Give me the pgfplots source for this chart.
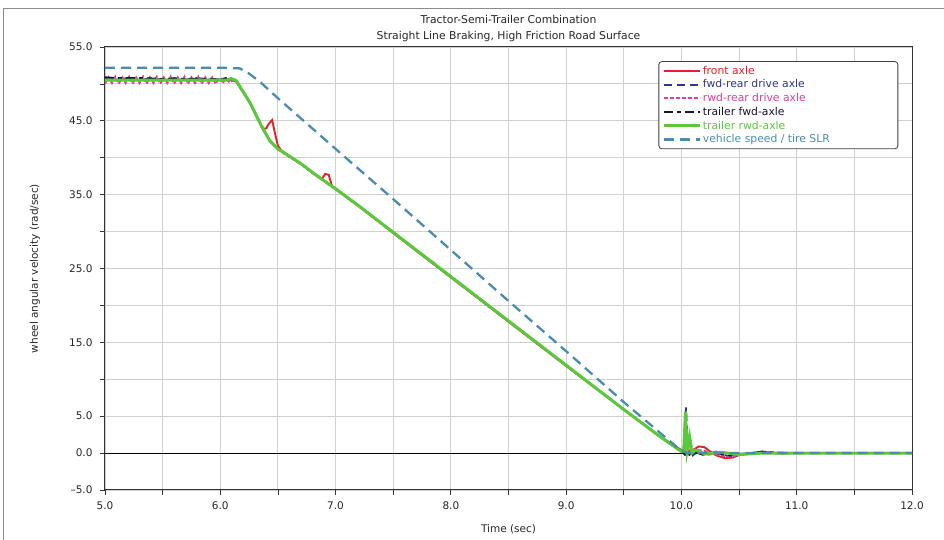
\documentclass[border=0pt]{standalone}
\usepackage{fontspec}
\setmainfont{DejaVu Sans}
\usepackage{pgfplots}
\pgfplotsset{compat=1.18}
\definecolor{cRed}{RGB}{228,32,36}
\definecolor{cNavy}{RGB}{45,55,140}
\definecolor{cPink}{RGB}{230,60,150}
\definecolor{cBlack}{RGB}{20,20,50}
\definecolor{cGreen}{RGB}{90,200,60}
\definecolor{cSteel}{RGB}{75,140,172}
\definecolor{cGrid}{RGB}{208,208,208}
\newcommand{\lt}[2]{\makebox[190pt][l]{\textcolor{#1}{#2}}}
\begin{document}
\begin{tikzpicture}
\useasboundingbox (-105pt,-50pt) rectangle (839pt,490pt);
\begin{axis}[
  at={(0,0)}, anchor=south west,
  scale only axis, width=807pt, height=443pt,
  xmin=5, xmax=12, ymin=-5, ymax=55,
  xtick={5,5.5,...,12},
  xticklabels={5.0,,6.0,,7.0,,8.0,,9.0,,10.0,,11.0,,12.0},
  ytick={-5,0,5,10,15,20,25,30,35,40,45,50,55},
  yticklabels={–5.0,0.0,5.0,,15.0,,25.0,,35.0,,45.0,,55.0},
  xtick pos=bottom, ytick pos=left,
  tick align=outside, major tick length=5pt,
  tick style={black!80, line width=0.8pt},
  grid=major,
  major grid style={draw=cGrid, line width=0.9pt},
  axis line style={draw=black!80, line width=1pt},
  ticklabel style={font=\fontsize{10.5}{12}\selectfont, text=black!85},
  xticklabel style={yshift=-3pt},
  yticklabel style={xshift=-4pt},
  xlabel={Time (sec)},
  ylabel={wheel angular velocity (rad/sec)},
  label style={font=\fontsize{10.5}{12}\selectfont, text=black!85},
  xlabel style={at={(axis description cs:0.5,0)}, anchor=center, yshift=-39pt},
  ylabel style={at={([xshift=-70pt]axis description cs:0,0.5)}, anchor=center},
  title={Tractor-Semi-Trailer Combination\\Straight Line Braking, High Friction Road Surface},
  title style={at={(axis description cs:0.5,1)}, anchor=south, align=center, inner sep=0pt, yshift=-1pt,
    font=\fontsize{10.8}{16}\selectfont, text=black!85},
  legend style={at={(axis description cs:0.983,0.968)}, anchor=north east,
    draw=black!75, rounded corners=3pt, fill=white, line width=0.8pt,
    font=\fontsize{10.8}{12}\selectfont, row sep=0pt, inner xsep=4pt, inner ysep=2.5pt,
    nodes={inner xsep=1pt}},
  legend cell align=left,
  legend image code/.code={\draw[#1] (0pt,0pt) -- (36pt,0pt);},
]
\addplot[black, line width=1pt, forget plot] coordinates {(5,0) (12,0)};

% front axle
\addplot[cRed, line width=1.9pt] coordinates {
(5.00,50.6)(5.10,50.5)(5.20,50.6)(5.30,50.5)(5.40,50.6)(5.50,50.5)(5.60,50.6)(5.70,50.5)(5.80,50.6)(5.90,50.5)(6.00,50.5)(6.10,50.5)
(6.14,50.3)(6.20,48.9)(6.26,47.4)(6.31,45.8)(6.36,44.3)(6.38,43.9)(6.40,44.0)(6.42,44.6)(6.45,45.1)(6.47,43.6)(6.50,41.6)(6.53,41.0)
(6.60,40.2)(6.70,39.2)(6.80,38.0)(6.88,37.1)(6.91,37.8)(6.94,37.7)(6.97,36.1)(7.00,35.8)(7.20,33.5)(7.50,29.8)(8.00,23.8)(8.50,17.8)
(9.00,11.8)(9.50,5.9)(9.80,2.4)(10.00,0.4)(10.05,0.1)(10.10,0.4)(10.15,0.9)(10.20,0.8)(10.25,0.2)(10.30,-0.3)(10.38,-0.7)(10.45,-0.6)
(10.50,-0.2)(10.60,0.0)(10.70,0.2)(10.80,0.0)(11.00,0.0)(12.00,0.0)};
\addlegendentry{\lt{cRed}{front axle}}

% fwd-rear drive axle
\addplot[cNavy, line width=1.8pt, dash pattern=on 8pt off 5pt] coordinates {
(5.00,50.8)(5.10,50.6)(5.20,50.8)(5.30,50.5)(5.40,50.8)(5.50,50.6)(5.60,50.8)(5.70,50.6)(5.80,50.8)(5.90,50.6)(6.00,50.7)(6.10,50.5)
(6.14,50.4)(6.20,48.9)(6.26,47.4)(6.31,45.8)(6.36,44.2)(6.43,42.3)(6.50,41.2)(6.60,40.2)(6.70,39.2)(6.80,38.0)(6.90,36.9)(7.00,35.8)
(7.20,33.5)(7.50,29.9)(8.00,23.9)(8.50,17.9)(9.00,11.9)(9.50,5.9)(9.80,2.4)(10.00,0.3)(10.02,0.5)(10.04,6.2)(10.055,0.8)(10.08,1.6)
(10.10,-0.3)(10.15,0.3)(10.20,-0.2)(10.30,0.2)(10.40,-0.4)(10.50,-0.1)(10.70,0.1)(11.00,0.0)(12.00,0.0)};
\addlegendentry{\lt{cNavy}{fwd-rear drive axle}}

% rwd-rear drive axle
\addplot[cPink, line width=1.8pt, dash pattern=on 4pt off 2pt] coordinates {
(5.00,50.0)(5.03,50.9)(5.06,50.1)(5.09,51.0)(5.12,50.0)(5.15,50.9)(5.18,50.1)(5.21,51.0)(5.24,50.0)(5.27,50.9)(5.30,50.1)(5.33,51.0)
(5.36,50.0)(5.39,50.9)(5.42,50.1)(5.45,51.0)(5.48,50.0)(5.51,50.9)(5.54,50.1)(5.57,51.0)(5.60,50.0)(5.63,50.9)(5.66,50.1)(5.69,51.0)
(5.72,50.0)(5.75,50.9)(5.78,50.1)(5.81,51.0)(5.84,50.0)(5.87,50.9)(5.90,50.1)(5.93,50.9)(5.96,50.0)(5.99,50.8)(6.02,50.1)(6.05,50.7)(6.08,50.2)(6.11,50.5)
(6.14,50.2)(6.20,48.8)(6.26,47.3)(6.31,45.7)(6.36,44.1)(6.43,42.2)(6.50,41.1)(6.60,40.1)(6.70,39.1)(6.80,37.9)(6.90,36.8)(7.00,35.7)
(7.20,33.4)(7.50,29.8)(8.00,23.8)(8.50,17.8)(9.00,11.8)(9.50,5.9)(9.80,2.4)(10.00,0.3)(10.10,0.5)(10.20,0.3)(10.30,-0.2)(10.40,-0.5)
(10.50,-0.3)(10.60,0.0)(10.75,0.2)(10.85,-0.1)(11.00,0.0)(12.00,0.0)};
\addlegendentry{\lt{cPink}{rwd-rear drive axle}}

% trailer fwd-axle
\addplot[cBlack, line width=1.8pt, dash pattern=on 9pt off 4pt on 4pt off 4pt] coordinates {
(5.00,50.9)(5.10,50.8)(5.30,50.8)(5.50,50.7)(5.70,50.7)(5.90,50.7)(6.00,50.6)(6.05,50.8)(6.08,50.9)(6.11,50.6)
(6.14,50.4)(6.20,48.9)(6.26,47.4)(6.31,45.8)(6.36,44.2)(6.43,42.3)(6.50,41.2)(6.60,40.2)(6.70,39.2)(6.80,38.0)(6.90,36.9)(7.00,35.8)
(7.20,33.5)(7.50,29.9)(8.00,23.9)(8.50,17.9)(9.00,11.9)(9.50,5.9)(9.80,2.4)(10.00,0.2)(10.05,-0.5)(10.10,0.2)(10.20,-0.3)(10.30,0.0)
(10.45,-0.4)(10.70,0.2)(10.90,0.0)(12.00,0.0)};
\addlegendentry{\lt{cBlack}{trailer fwd-axle}}

% trailer rwd-axle
\addplot[cGreen, line width=3pt] coordinates {
(5.00,50.5)(5.20,50.5)(5.40,50.5)(5.60,50.5)(5.80,50.5)(6.00,50.5)(6.05,50.5)(6.09,50.7)(6.12,50.6)
(6.14,50.4)(6.20,48.9)(6.26,47.4)(6.31,45.8)(6.36,44.2)(6.43,42.3)(6.50,41.2)(6.60,40.2)(6.70,39.2)(6.80,38.0)(6.90,36.9)(7.00,35.8)
(7.20,33.5)(7.50,29.9)(8.00,23.9)(8.50,17.9)(9.00,11.9)(9.50,5.9)(9.80,2.4)(10.00,0.2)(10.02,0.3)(10.035,5.6)(10.05,0.4)(10.07,2.2)
(10.09,0.0)(10.12,0.4)(10.20,-0.1)(10.35,0.1)(10.50,-0.2)(10.70,0.0)(12.00,0.0)};
\addlegendentry{\lt{cGreen}{trailer rwd-axle}}

% vehicle speed / tire SLR
\addplot[cSteel, line width=2.3pt, dash pattern=on 10pt off 6pt] coordinates {
(5.00,52.2)(5.50,52.2)(6.00,52.2)(6.17,52.1)(6.25,51.4)(6.35,50.2)(6.49,48.2)(7.00,41.2)(7.50,34.4)(8.00,27.5)(8.50,20.6)
(9.00,13.8)(9.50,6.9)(10.00,0.3)(10.05,0.0)(12.00,0.0)};
\addlegendentry{\lt{cSteel}{vehicle speed / tire SLR}}
\end{axis}
\draw[black!45, line width=0.9pt] (-102pt,-50pt) -- (-102pt,482pt) -- (839pt,482pt);
\end{tikzpicture}
\end{document}
